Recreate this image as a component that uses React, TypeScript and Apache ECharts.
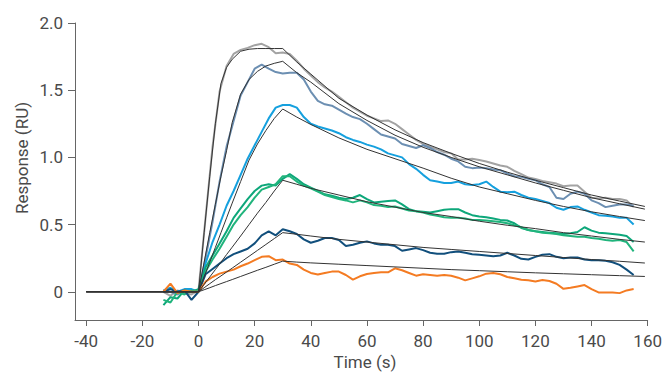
import React, { useEffect, useRef } from "react";
import * as echarts from "echarts";

// Sampling times of the measured sensorgrams (s)
const TIME = [
  -12.5, -10, -7.5, -5, -2.5, 0,
  2.5, 5, 7.5, 10, 12.5, 15, 17.5, 20, 22.5, 25, 27.5, 30,
  32.5, 35, 37.5, 40, 42.5, 45, 47.5, 50, 52.5, 55,
  57.5, 60, 62.5, 65, 67.5, 70, 72.5, 75, 77.5, 80,
  82.5, 85, 87.5, 90, 92.5, 95, 97.5, 100, 102.5, 105,
  107.5, 110, 112.5, 115, 117.5, 120, 122.5, 125, 127.5, 130,
  132.5, 135, 137.5, 140, 142.5, 145, 147.5, 150, 152.5, 155,
];

const GRAY = [
  0.0, -0.03, 0.01, -0.01, -0.02, 0.01,
  0.55, 1.08, 1.49, 1.68, 1.77, 1.8, 1.815, 1.835, 1.845, 1.82, 1.775, 1.78,
  1.77, 1.72, 1.66, 1.61, 1.56, 1.52, 1.49, 1.45, 1.41, 1.37,
  1.34, 1.31, 1.29, 1.27, 1.275, 1.25, 1.21, 1.17, 1.13, 1.1,
  1.08, 1.06, 1.04, 1.03, 0.985, 0.985, 0.99, 0.98, 0.97, 0.955,
  0.94, 0.93, 0.9, 0.875, 0.85, 0.84, 0.825, 0.815, 0.805, 0.785,
  0.79, 0.79, 0.745, 0.7, 0.695, 0.7, 0.69, 0.69, 0.68, 0.63,
];

const SLATE = [
  0.0, 0.0, -0.02, 0.01, 0.0, 0.0,
  0.25, 0.52, 0.82, 1.08, 1.27, 1.46, 1.56, 1.66, 1.69, 1.66, 1.635, 1.625,
  1.63, 1.63, 1.58, 1.49, 1.42, 1.395, 1.385, 1.355, 1.325, 1.3,
  1.285, 1.25, 1.21, 1.17, 1.155, 1.14, 1.1, 1.085, 1.07, 1.09,
  1.07, 1.04, 1.02, 0.99, 0.97, 0.93, 0.92, 0.925, 0.92, 0.91,
  0.905, 0.88, 0.86, 0.855, 0.84, 0.83, 0.8, 0.78, 0.7, 0.69,
  0.73, 0.745, 0.73, 0.68, 0.66, 0.63, 0.64, 0.65, 0.65, 0.64,
];

const BLUE = [
  0.01, 0.03, 0.0, 0.02, 0.02, 0.0,
  0.21, 0.37, 0.5, 0.64, 0.75, 0.87, 0.99, 1.09, 1.19, 1.29, 1.37, 1.39,
  1.39, 1.37, 1.3, 1.25, 1.23, 1.215, 1.2, 1.18, 1.15, 1.13,
  1.115, 1.095, 1.08, 1.06, 1.03, 1.015, 1.0, 0.95, 0.915, 0.87,
  0.83, 0.82, 0.81, 0.81, 0.82, 0.8, 0.795, 0.8, 0.82, 0.78,
  0.745, 0.74, 0.745, 0.72, 0.7, 0.69, 0.675, 0.66, 0.625, 0.61,
  0.63, 0.635, 0.61, 0.59, 0.57, 0.565, 0.56, 0.55, 0.55, 0.5,
];

const GREEN_A = [
  -0.1, -0.04, -0.05, 0.01, 0.0, 0.02,
  0.18, 0.27, 0.36, 0.45, 0.55, 0.62, 0.69, 0.75, 0.79, 0.8, 0.79, 0.84,
  0.875, 0.84, 0.8, 0.775, 0.75, 0.725, 0.715, 0.7, 0.69, 0.7,
  0.72, 0.69, 0.665, 0.67, 0.675, 0.68, 0.65, 0.615, 0.6, 0.595,
  0.59, 0.6, 0.61, 0.615, 0.615, 0.59, 0.57, 0.56, 0.555, 0.545,
  0.535, 0.53, 0.51, 0.475, 0.46, 0.45, 0.445, 0.44, 0.435, 0.43,
  0.435, 0.445, 0.48, 0.455, 0.44, 0.435, 0.43, 0.425, 0.415, 0.37,
];

const GREEN_B = [
  -0.06, -0.08, 0.0, -0.02, 0.01, 0.0,
  0.15, 0.24, 0.32, 0.41, 0.5, 0.57, 0.63, 0.7, 0.76, 0.78, 0.8, 0.86,
  0.86, 0.82, 0.79, 0.77, 0.745, 0.72, 0.705, 0.69, 0.68, 0.665,
  0.68, 0.665, 0.645, 0.64, 0.63, 0.635, 0.62, 0.605, 0.6, 0.59,
  0.575, 0.565, 0.555, 0.55, 0.55, 0.545, 0.535, 0.535, 0.53, 0.525,
  0.52, 0.51, 0.495, 0.48, 0.46, 0.45, 0.44, 0.435, 0.43, 0.42,
  0.415, 0.41, 0.41, 0.4, 0.395, 0.385, 0.38, 0.385, 0.37, 0.3,
];

const DARK_BLUE = [
  0.0, 0.02, 0.0, 0.01, -0.06, 0.0,
  0.13, 0.17, 0.21, 0.25, 0.28, 0.3, 0.32, 0.36, 0.42, 0.45, 0.42, 0.465,
  0.45, 0.43, 0.39, 0.365, 0.38, 0.4, 0.4, 0.385, 0.34, 0.35,
  0.365, 0.375, 0.36, 0.35, 0.35, 0.34, 0.305, 0.315, 0.325, 0.31,
  0.29, 0.283, 0.283, 0.295, 0.3, 0.29, 0.28, 0.275, 0.27, 0.265,
  0.27, 0.29, 0.27, 0.245, 0.24, 0.26, 0.275, 0.28, 0.26, 0.25,
  0.255, 0.255, 0.24, 0.235, 0.235, 0.23, 0.22, 0.2, 0.165, 0.125,
];

const ORANGE = [
  0.0, 0.06, -0.01, 0.01, 0.0, 0.0,
  0.075, 0.11, 0.135, 0.15, 0.165, 0.19, 0.21, 0.235, 0.26, 0.265, 0.235, 0.24,
  0.21, 0.2, 0.165, 0.14, 0.128, 0.14, 0.15, 0.15, 0.125, 0.09,
  0.115, 0.132, 0.14, 0.145, 0.145, 0.175, 0.16, 0.14, 0.12, 0.13,
  0.125, 0.12, 0.125, 0.119, 0.105, 0.085, 0.1, 0.115, 0.135, 0.14,
  0.13, 0.11, 0.1, 0.09, 0.085, 0.077, 0.087, 0.08, 0.06, 0.022,
  0.03, 0.04, 0.05, 0.02, -0.005, -0.005, -0.005, -0.01, 0.01, 0.02,
];

// Fitted 1:1 model curves
const FIT_TIME = [
  -40, 0, 2, 4, 6, 8, 10, 12, 15, 18, 21, 24, 27, 30,
  35, 40, 50, 60, 70, 80, 90, 100, 110, 120, 130, 140, 150, 159,
];
const FIT_1 = [
  0, 0, 0.44, 0.86, 1.25, 1.55, 1.67, 1.73, 1.79, 1.805, 1.81, 1.81, 1.81, 1.81,
  1.71, 1.62, 1.44, 1.315, 1.205, 1.11, 1.03, 0.955, 0.89, 0.83, 0.775, 0.72, 0.675, 0.635,
];
const FIT_2 = [
  0, 0, 0.22, 0.44, 0.65, 0.86, 1.05, 1.26, 1.47, 1.58, 1.64, 1.68, 1.7, 1.715,
  1.63, 1.56, 1.4, 1.275, 1.165, 1.075, 1.0, 0.93, 0.87, 0.81, 0.755, 0.7, 0.655, 0.615,
];
const FIT_3 = [
  0, 0, 0.11, 0.22, 0.33, 0.44, 0.55, 0.66, 0.82, 0.98, 1.1, 1.2, 1.29, 1.36,
  1.3, 1.245, 1.145, 1.06, 0.99, 0.92, 0.845, 0.78, 0.73, 0.68, 0.635, 0.595, 0.56, 0.53,
];
const FIT_4 = [
  0, 0, 0.055, 0.11, 0.165, 0.22, 0.277, 0.332, 0.415, 0.5, 0.585, 0.665, 0.75, 0.83,
  0.8, 0.77, 0.72, 0.67, 0.63, 0.59, 0.56, 0.525, 0.495, 0.47, 0.44, 0.415, 0.39, 0.37,
];
const FIT_5 = [
  0, 0, 0.03, 0.06, 0.09, 0.118, 0.147, 0.176, 0.22, 0.264, 0.308, 0.352, 0.396, 0.44,
  0.428, 0.415, 0.39, 0.37, 0.35, 0.33, 0.315, 0.3, 0.285, 0.27, 0.255, 0.24, 0.227, 0.214,
];
const FIT_6 = [
  0, 0, 0.015, 0.03, 0.046, 0.061, 0.076, 0.091, 0.114, 0.137, 0.16, 0.182, 0.205, 0.228,
  0.221, 0.215, 0.205, 0.195, 0.185, 0.175, 0.165, 0.157, 0.149, 0.141, 0.134, 0.127, 0.12, 0.114,
];

const X_TICKS = [-40, -20, 0, 20, 40, 60, 80, 100, 120, 140, 160];
const Y_TICKS = [0, 0.5, 1, 1.5, 2];

const FONT = "Roboto, 'Liberation Sans', sans-serif";
const TEXT_COLOR = "#4a4a4a";
const AXIS_COLOR = "#666666";

export default function App() {
  const ref = useRef<HTMLDivElement>(null);

  useEffect(() => {
    if (!ref.current) return;
    const chart = echarts.init(ref.current, null, { renderer: "svg" });
    const pair = (ts: number[], vs: number[]) => ts.map((t, i) => [t, vs[i]]);

    const measured = [
      { name: "c1", color: "#a3a3a3", values: GRAY },
      { name: "c2", color: "#6c8fb2", values: SLATE },
      { name: "c3", color: "#15a0de", values: BLUE },
      { name: "c4a", color: "#0da77a", values: GREEN_A },
      { name: "c4b", color: "#20b47c", values: GREEN_B },
      { name: "c5", color: "#114f7c", values: DARK_BLUE },
      { name: "c6", color: "#f47b22", values: ORANGE },
    ];
    const fits = [FIT_1, FIT_2, FIT_3, FIT_4, FIT_5, FIT_6];

    const series: any[] = [];
    measured.forEach((m, i) => {
      series.push({
        type: "line",
        name: m.name,
        data: pair(TIME, m.values),
        showSymbol: false,
        symbol: "none",
        lineStyle: { color: m.color, width: 2 },
        z: 2 + i * 0.01,
        silent: true,
      });
    });
    fits.forEach((f, i) => {
      series.push({
        type: "line",
        name: "fit" + (i + 1),
        data: pair(FIT_TIME, f),
        showSymbol: false,
        symbol: "none",
        lineStyle: { color: "#333333", width: 1 },
        z: 5,
        silent: true,
      });
    });

    chart.setOption({
      animation: false,
      grid: { left: 75, right: 14, top: 23, bottom: 54 },
      xAxis: {
        type: "value",
        min: -44,
        max: 160,
        axisLine: { show: true, onZero: false, lineStyle: { color: AXIS_COLOR, width: 1 } },
        axisTick: { show: true, length: 6, customValues: X_TICKS, lineStyle: { color: AXIS_COLOR } },
        axisLabel: {
          customValues: X_TICKS,
          margin: 12,
          fontSize: 17,
          fontFamily: FONT,
          color: TEXT_COLOR,
        },
        splitLine: { show: false },
      },
      yAxis: {
        type: "value",
        min: -0.21,
        max: 2,
        axisLine: { show: true, onZero: false, lineStyle: { color: AXIS_COLOR, width: 1 } },
        axisTick: { show: true, length: 7, customValues: Y_TICKS, lineStyle: { color: AXIS_COLOR } },
        axisLabel: {
          customValues: Y_TICKS,
          margin: 12,
          fontSize: 17,
          fontFamily: FONT,
          color: TEXT_COLOR,
          formatter: (v: number) => (v === 0 ? "0" : v.toFixed(1)),
        },
        splitLine: { show: false },
      },
      graphic: [
        {
          type: "text",
          x: 22,
          y: 158,
          rotation: Math.PI / 2,
          style: {
            text: "Response (RU)",
            fontSize: 17,
            fontFamily: FONT,
            fill: TEXT_COLOR,
            align: "center",
            verticalAlign: "middle",
          },
        },
        {
          type: "text",
          x: 365,
          y: 362,
          style: {
            text: "Time (s)",
            fontSize: 17,
            fontFamily: FONT,
            fill: TEXT_COLOR,
            align: "center",
            verticalAlign: "middle",
          },
        },
      ],
      series,
    });

    return () => chart.dispose();
  }, []);

  return (
    <div
      ref={ref}
      style={{ position: "absolute", left: 0, top: 0, width: 665, height: 374 }}
    />
  );
}
